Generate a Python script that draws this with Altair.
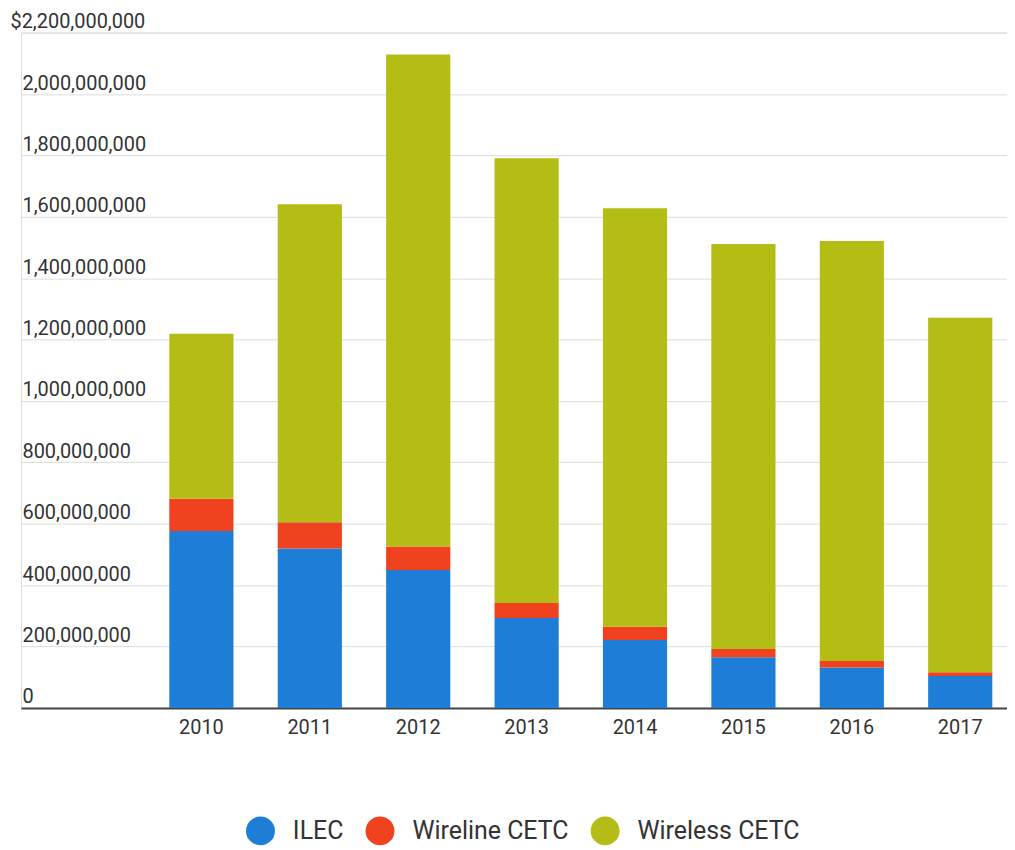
import altair as alt
import pandas as pd

years = ["2010", "2011", "2012", "2013", "2014", "2015", "2016", "2017"]
series = ["ILEC", "Wireline CETC", "Wireless CETC"]
colors = ["#1e7ed7", "#f0421f", "#b3bd15"]

# values in millions of dollars
ilec = [576, 519, 449, 293, 221, 165, 132, 104]
wireline = [105, 86, 77, 49, 43, 27, 21, 12]
wireless = [538, 1036, 1603, 1449, 1364, 1319, 1368, 1155]

y_ticks = [0, 200000000, 400000000, 600000000, 800000000, 1000000000,
           1200000000, 1400000000, 1600000000, 1800000000, 2000000000, 2200000000]

rows = []
for i, yr in enumerate(years):
    for k, (name, vals) in enumerate(zip(series, [ilec, wireline, wireless])):
        rows.append({"year": yr, "series": name, "value": vals[i] * 1_000_000, "order": k})
df = pd.DataFrame(rows)

chart = alt.Chart(df).mark_bar().encode(
    x=alt.X(
        "year:N", sort=years, title=None,
        scale=alt.Scale(paddingInner=0.408, paddingOuter=0.752, align=0.91),
        axis=alt.Axis(labelAngle=0, labelFont="Roboto", labelFontSize=20, labelColor="#333333",
                      labelPadding=10, ticks=False, domainColor="#444444", domainWidth=2, grid=False),
    ),
    y=alt.Y(
        "value:Q", stack="zero", title=None,
        scale=alt.Scale(domain=[0, 2200000000], nice=False),
        axis=alt.Axis(
            values=y_ticks, format=",",
            labelExpr="datum.value >= 2200000000 ? '$' + format(datum.value, ',') : format(datum.value, ',')",
            labelAlign="left", labelBaseline="alphabetic", labelOffset=-5,
            labelPadding={"condition": {"test": "datum.value >= 2200000000", "value": 11}, "value": -1},
            labelFont="Roboto", labelFontSize=20, labelColor="#333333",
            ticks=False, tickSize=0, domain=False,
            grid=True, gridColor="#dcdcdc", gridWidth=1,
        ),
    ),
    color=alt.Color(
        "series:N",
        scale=alt.Scale(domain=series, range=colors),
        legend=alt.Legend(
            orient="none", legendX=226, legendY=787, direction="horizontal", title=None,
            symbolType="circle", symbolSize=841, symbolStrokeWidth=0, symbolOpacity=1,
            labelFont="Roboto", labelFontSize=25, labelColor="#333333", labelLimit=400,
            labelOffset=18, columnPadding=22, padding=0,
        ),
    ),
    order=alt.Order("order:Q", sort="ascending"),
).properties(
    width=990, height=678,
    autosize=alt.AutoSizeParams(type="none"),
    padding={"left": 13, "top": 23, "right": 0, "bottom": 150},
).configure_view(stroke=None).configure(background="white")

chart.save("out.html", embed_options={"renderer": "svg", "actions": False})
